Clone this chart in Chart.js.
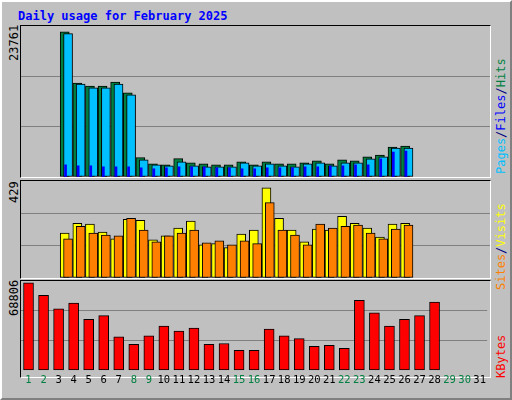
<!DOCTYPE html>
<html>
<head>
<meta charset="utf-8">
<script src="https://cdn.jsdelivr.net/npm/chart.js@4"></script>
<style>
    body { margin: 0; background: #fff; }
    #frame { position: absolute; left: 0; top: 0; width: 508px; height: 396px; background: #c0c0c0;
             border-top: 2px solid #fff; border-left: 2px solid #fff; border-right: 2px solid #808080; border-bottom: 2px solid #808080; }
    .title { position: absolute; left: 18px; top: 9px; font: bold 12px "DejaVu Sans Mono", monospace; color: #0000ff; }
    .box { position: absolute; left: 20px; width: 469px; border-top: 1px solid #000; border-left: 1px solid #000;
           border-right: 1px solid #fff; border-bottom: 1px solid #fff; }
    canvas { position: absolute; }
    .up { position: absolute; transform: rotate(-90deg); transform-origin: left top; white-space: nowrap;
          font: 12px "DejaVu Sans Mono", monospace; }
</style>
</head>
<body>
<div id="frame"></div>
<div class="title">Daily usage for February 2025</div>
<div class="box" style="top:25px;height:151px"></div>
<div class="box" style="top:180px;height:97px"></div>
<div class="box" style="top:280px;height:96px"></div>
<canvas id="c1" width="469" height="151" style="left:21px;top:26px"></canvas>
<canvas id="c2" width="469" height="97" style="left:21px;top:181px"></canvas>
<canvas id="c3" width="469" height="110" style="left:21px;top:281px"></canvas>
<div class="up" style="left:7px;top:61px;color:#000">23761</div>
<div class="up" style="left:7px;top:203px;color:#000">429</div>
<div class="up" style="left:7px;top:316px;color:#000">68806</div>
<div class="up" style="left:494px;top:174px"><span style="color:#00c0ff">Pages</span><span style="color:#000080">/</span><span style="color:#0000ff">Files</span><span style="color:#000080">/</span><span style="color:#008040">Hits</span></div>
<div class="up" style="left:494px;top:290px"><span style="color:#ff8000">Sites</span><span style="color:#000080">/</span><span style="color:#ffff00">Visits</span></div>
<div class="up" style="left:494px;top:378px;color:#ff0000">KBytes</div>
<script>
const days = [];
for (let d = 1; d <= 31; d++) days.push(String(d));
const weekendDays = [1, 2, 8, 9, 15, 16, 22, 23, 29, 30];

const hits = [23761, 15375, 14891, 14891, 15536, 13763, 3172, 2150, 1989, 3010, 2312, 2150, 1989, 1989, 2473, 1989,
              2473, 2150, 2150, 2312, 2634, 2150, 2796, 2634, 3279, 3602, 4892, 5053];
const files = [23440, 15214, 14569, 14569, 15214, 13440, 2796, 1989, 1828, 2473, 1828, 1667, 1667, 1667, 2312, 1828,
               2150, 1828, 1667, 2150, 2312, 1828, 2312, 2312, 2957, 3279, 4731, 4731];
const pages = [1989, 1828, 1828, 1667, 1667, 1667, 1505, 1344, 1505, 1667, 1667, 1667, 1505, 1505, 1344, 1344,
               1505, 1505, 1505, 1667, 1667, 1828, 1828, 1989, 1989, 2957, 4086, 4247];
const visits = [214, 260, 256, 218, 186, 279, 274, 181, 200, 237, 270, 158, 163, 144, 209, 228,
                429, 283, 228, 172, 232, 228, 293, 260, 237, 195, 256, 260];
const sites = [186, 246, 214, 204, 200, 283, 228, 172, 200, 214, 228, 167, 177, 158, 177, 163,
               358, 228, 204, 158, 256, 237, 246, 251, 214, 186, 232, 251];
const kbytes = [68806, 58968, 48384, 52920, 40068, 43092, 26460, 20412, 27216, 34776, 30996, 33264, 20412, 21168, 15876, 15876,
                32508, 27216, 24948, 18900, 19656, 17388, 55188, 45360, 34776, 40068, 43092, 53676];

const GRID = '#808080';
const DAY_PX = 469 / 31;

// linear day axis; shiftPx moves the bars right by that many pixels
function dayAxis(shiftPx) {
    const s = shiftPx / DAY_PX;
    return { type: 'linear', min: 0.5 - s, max: 31.5 - s, display: false };
}

function points(values) {
    return values.map((v, i) => ({ x: i + 1, y: v }));
}

function yScale(max) {
    return {
        min: 0, max: max, display: true,
        border: { display: false },
        ticks: { display: false, stepSize: max / 3 },
        grid: { drawTicks: false, color: ctx => (ctx.tick.value > 0 && ctx.tick.value < max - 1) ? GRID : 'rgba(0,0,0,0)' }
    };
}

function bar(values, color, axis, thickness) {
    return {
        data: points(values), backgroundColor: color, xAxisID: axis,
        borderColor: '#000', borderWidth: thickness > 3 ? 1 : 0, borderSkipped: false,
        grouped: false, barThickness: thickness
    };
}

const baseOptions = {
    responsive: false, animation: false, devicePixelRatio: 1,
    layout: { padding: 0 },
    plugins: { legend: { display: false }, tooltip: { enabled: false } }
};

// Hits / Files / Pages (first dataset is drawn on top)
new Chart(document.getElementById('c1'), {
    type: 'bar',
    data: { datasets: [
        bar(pages, '#0000ff', 'xp', 2),
        bar(files, '#00c0ff', 'xf', 9),
        bar(hits, '#008040', 'x', 9)
    ] },
    options: Object.assign({}, baseOptions, {
        scales: { x: dayAxis(-2), xf: dayAxis(2), xp: dayAxis(-1), y: yScale(24700) }
    })
});

// Visits / Sites
new Chart(document.getElementById('c2'), {
    type: 'bar',
    data: { datasets: [
        bar(sites, '#ff8000', 'xf', 9),
        bar(visits, '#ffff00', 'x', 9)
    ] },
    options: Object.assign({}, baseOptions, {
        scales: { x: dayAxis(-2), xf: dayAxis(2), y: yScale(461) }
    })
});

// KBytes
new Chart(document.getElementById('c3'), {
    type: 'bar',
    data: { labels: days, datasets: [{
        data: kbytes, backgroundColor: '#ff0000', borderColor: '#000', borderWidth: 1, borderSkipped: false,
        barThickness: 10
    }] },
    options: Object.assign({}, baseOptions, {
        scales: {
            x: {
                type: 'category', offset: true,
                border: { display: false },
                grid: { display: false, drawTicks: false },
                ticks: {
                    padding: 4, autoSkip: false, maxRotation: 0,
                    font: { family: 'DejaVu Sans Mono', size: 10.5 },
                    color: ctx => weekendDays.includes(ctx.index + 1) ? '#008040' : '#000'
                }
            },
            y: yScale(70300)
        }
    })
});
</script>
</body>
</html>
